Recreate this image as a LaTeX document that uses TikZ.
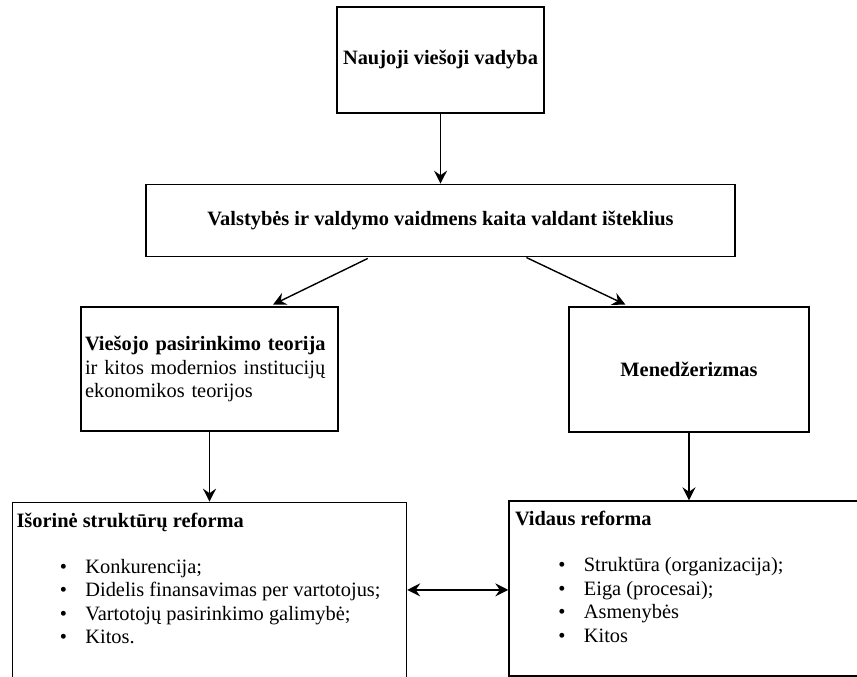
\documentclass[tikz,border=0pt]{standalone}
\usepackage{fontspec}
\setmainfont{Liberation Serif}
\usetikzlibrary{arrows.meta,positioning,calc}
\newcommand{\itm}{\makebox[25.5pt][l]{\textbullet}}

\begin{document}
\begin{tikzpicture}[x=1pt,y=-1pt,->,>={Stealth[length=13pt,width=13pt,inset=4.5pt]},line width=1.4pt,
  every node/.style={font=\fontsize{20.4}{23.5}\selectfont},
  box/.style={draw,rectangle,inner sep=4pt,line width=1.4pt},
  boxtext/.style={inner sep=0pt,align=left}]
  \clip (0,0) rectangle (857,677);
  \node[box,minimum width=207pt,minimum height=106pt] (nvv) at (440.5,60) {\textbf{Naujoji viešoji vadyba}};
  \node[box,minimum width=589pt,minimum height=72pt] (kaita) [below=70pt of nvv] {\textbf{Valstybės ir valdymo vaidmens kaita valdant išteklius}};
  \node[box,minimum width=257pt,minimum height=124pt,align=left,text width=249pt] (vpt) at (209.5,369) {\textbf{Viešojo pasirinkimo teorija}\\ir kitos modernios institucijų\\ekonomikos teorijos};
  \node[box,minimum width=240pt,minimum height=125pt] (men) at (689,369.5) {\textbf{Menedžerizmas}};
  \node[box,minimum width=394pt,minimum height=175pt] (isor) [below=70pt of vpt] {};
  \node[box,minimum width=371pt,minimum height=175pt] (vid) at (694.5,588.5) {};
%
  \node[boxtext,anchor=base west] (isortit) at ([shift={(4,25.6)}]isor.north west) {\textbf{Išorinė struktūrų reforma}};
  \node[boxtext,anchor=base west] (isorlist) at ([shift={(47.4,142.1)}]isor.north west)
    {\itm Konkurencija;\\\itm Didelis finansavimas per vartotojus;\\\itm Vartotojų pasirinkimo galimybė;\\\itm Kitos.};
  \node[boxtext,anchor=base west] (vidtit) at ([shift={(6,25.6)}]vid.north west) {\textbf{Vidaus reforma}};
  \node[boxtext,anchor=base west] (vidlist) at ([shift={(49.4,142.1)}]vid.north west)
    {\itm Struktūra (organizacija);\\\itm Eiga (procesai);\\\itm Asmenybės\\\itm Kitos};
%
  \path (nvv) edge (nvv.south |- kaita.north);
  \path ([xshift=-70pt]kaita.south) edge [shorten <=3pt,shorten >=4pt] ([xshift=60pt]vpt.north);
  \path ([xshift=85pt]kaita.south) edge [shorten <=1pt,shorten >=4pt] ([xshift=-60pt]men.north);
  \path (vpt) edge (isor);
  \path (men) edge (men.south |- vid.north);
  \path (isor.east) edge [<->] (isor.east -| vid.west);
\end{tikzpicture}
\end{document}
